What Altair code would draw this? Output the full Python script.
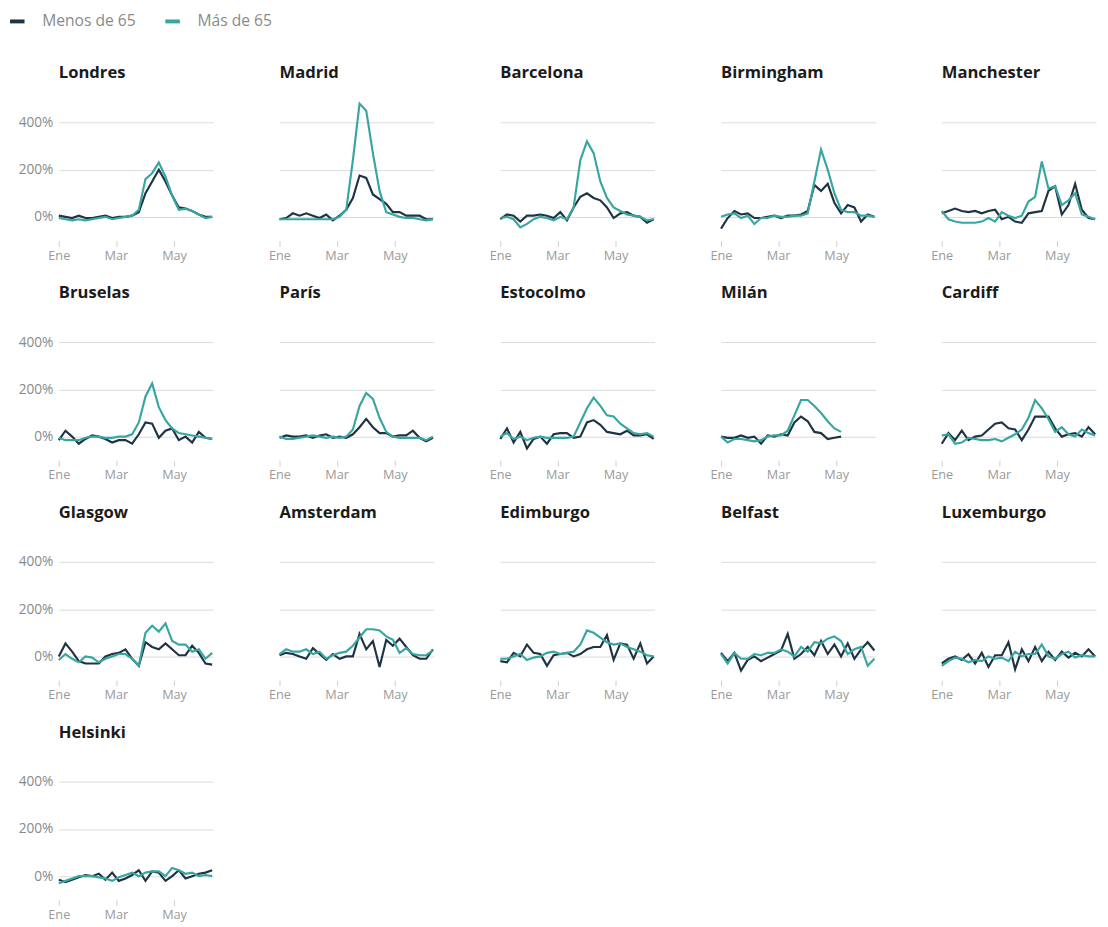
import altair as alt
import pandas as pd

# days since 1 Jan 2020 for each weekly observation
dias = [0, 7, 14, 21, 28, 35, 42, 49, 56, 63, 70, 77, 84, 91, 98, 105, 112, 119, 126, 133, 140, 147, 154, 161]

ciudades = ["Londres", "Madrid", "Barcelona", "Birmingham", "Manchester",
            "Bruselas", "París", "Estocolmo", "Milán", "Cardiff",
            "Glasgow", "Amsterdam", "Edimburgo", "Belfast", "Luxemburgo",
            "Helsinki"]
grupos = ["Menos de 65", "Más de 65"]
colores = ["#1f3344", "#38a6a0"]

londres_menos = [5, 0, -5, 5, -5, -5, 0, 5, -5, 0, 0, 5, 20, 100, 150, 200, 150, 90, 40, 35, 25, 10, 0, 0]
londres_mas = [-5, -10, -15, -10, -15, -10, -5, 0, -10, -5, 0, 5, 30, 160, 185, 230, 170, 90, 30, 35, 25, 10, -5, 0]
madrid_menos = [-10, -5, 15, 5, 15, 5, -5, 10, -15, 5, 30, 80, 175, 165, 95, 75, 55, 20, 20, 5, 5, 5, -10, -10]
madrid_mas = [-10, -10, -10, -10, -10, -10, -10, -10, -10, 0, 30, 240, 480, 450, 270, 110, 20, 10, 0, -5, -5, -10, -15, -10]
barcelona_menos = [-10, 10, 5, -20, 5, 5, 10, 5, -5, 20, -15, 40, 85, 100, 80, 70, 40, -5, 15, 20, 5, 0, -25, -10]
barcelona_mas = [-5, 0, -10, -45, -30, -10, 0, -5, -15, 0, -10, 40, 240, 320, 270, 150, 80, 40, 25, 10, 5, 0, -15, -10]
birmingham_menos = [-50, -5, 25, 10, 15, -5, -5, 0, 5, -5, 5, 5, 10, 25, 135, 110, 140, 60, 15, 50, 40, -20, 10, 0]
birmingham_mas = [0, 10, 15, -5, 5, -30, -5, -5, 5, 0, 0, 5, 5, 15, 150, 285, 200, 100, 30, 20, 20, 5, 5, 0]
manchester_menos = [15, 25, 35, 25, 20, 25, 15, 25, 30, -10, 0, -20, -25, 15, 20, 25, 110, 130, 10, 50, 140, 30, -5, -10]
manchester_mas = [25, -10, -20, -25, -25, -25, -20, -5, -20, 20, 5, -5, 5, 65, 85, 235, 120, 130, 50, 70, 100, 10, 0, -10]
bruselas_menos = [-15, 25, 0, -30, -10, 5, 0, -10, -25, -15, -15, -30, 10, 60, 55, -5, 25, 35, -15, 0, -25, 20, -5, -10]
bruselas_mas = [-5, -15, -15, -15, -5, 0, 0, -5, -5, 0, 0, 10, 60, 170, 225, 125, 70, 35, 15, 10, 5, 0, -5, -10]
paris_menos = [-5, 5, 0, 0, 5, -5, 5, 10, -5, 0, -5, 10, 40, 75, 40, 15, 15, 0, 5, 5, 25, -5, -20, -5]
paris_mas = [0, -10, -10, -5, 0, 5, 0, -5, 0, -5, 0, 30, 130, 185, 160, 80, 20, 0, -5, -5, -5, -5, -15, 0]
estocolmo_menos = [-10, 35, -25, 20, -50, -10, 0, -30, 10, 15, 15, -5, 0, 60, 70, 50, 20, 15, 10, 25, 5, 5, 10, -10]
estocolmo_mas = [0, 15, -10, 0, -15, -5, 0, -5, -5, -5, -5, 0, 60, 120, 165, 130, 90, 85, 55, 35, 15, 10, 15, 0]
milan_menos = [0, -5, -5, 5, -5, 0, -30, 5, 0, 10, 5, 60, 85, 65, 20, 15, -10, -5, 0]
milan_mas = [0, -25, -10, -10, -15, -20, -15, 0, 5, 5, 25, 90, 155, 155, 130, 100, 65, 35, 20]
cardiff_menos = [-30, 15, -15, 25, -15, 0, 5, 30, 55, 60, 35, 30, -15, 30, 85, 85, 85, 35, 0, 10, 15, 0, 40, 10]
cardiff_mas = [5, 10, -30, -25, -5, -10, -15, -15, -10, -20, -5, 10, 30, 80, 155, 120, 75, 20, 40, 10, 0, 30, 15, 5]
glasgow_menos = [0, 55, 20, -20, -30, -30, -30, 0, 10, 15, 30, -10, -40, 60, 40, 30, 55, 30, 5, 5, 45, 15, -30, -35]
glasgow_mas = [-15, 10, -10, -25, 0, -5, -25, -10, 0, 10, 10, -10, -40, 100, 130, 105, 140, 65, 50, 50, 20, 30, -10, 15]
amsterdam_menos = [5, 15, 10, 0, -10, 35, 10, -15, 10, -10, 0, 0, 95, 30, 65, -45, 70, 45, 75, 40, 5, -10, -10, 30]
amsterdam_mas = [10, 30, 20, 20, 30, 10, 20, -10, 5, 15, 20, 45, 80, 115, 115, 110, 85, 70, 15, 35, 10, 5, 5, 25]
edimburgo_menos = [-20, -25, 15, 0, 50, 15, 10, -40, 5, 10, 15, 0, 10, 30, 40, 40, 90, -15, 55, 50, -10, 55, -30, 0]
edimburgo_mas = [-10, -10, 0, 10, -15, -5, 0, 15, 20, 10, 15, 20, 50, 110, 100, 80, 60, 50, 55, 40, 30, 20, 5, 0]
belfast_menos = [15, -20, 15, -60, -15, 0, -20, -5, 10, 25, 95, -10, 10, 40, 5, 65, 10, 50, 0, 55, -10, 30, 60, 25]
belfast_mas = [10, -30, 15, -10, -10, 10, 5, 15, 15, 30, 20, 0, 40, 20, 60, 55, 75, 85, 65, 10, 30, 40, -40, -10]
luxemburgo_menos = [-30, -10, 0, -15, 10, -30, 15, -45, 5, 5, 60, -55, 30, -20, 40, -20, 20, -15, 20, -5, 15, 0, 30, 0]
luxemburgo_mas = [-40, -20, -5, -10, -25, -15, -20, 0, -10, -5, -20, 20, 0, 10, 10, 50, 0, -10, 10, 20, -5, 5, 0, 0]
helsinki_menos = [-15, -25, -15, -5, 5, 0, 10, -15, 15, -20, -10, 5, 25, -20, 20, 15, -20, 0, 25, -10, 0, 10, 15, 25]
helsinki_mas = [-30, -20, -10, 0, 0, 0, -5, -10, -20, -5, 5, 15, 0, 15, 20, 20, 0, 35, 25, 10, 15, 0, 5, 0]

series = {
    "Londres": (londres_menos, londres_mas),
    "Madrid": (madrid_menos, madrid_mas),
    "Barcelona": (barcelona_menos, barcelona_mas),
    "Birmingham": (birmingham_menos, birmingham_mas),
    "Manchester": (manchester_menos, manchester_mas),
    "Bruselas": (bruselas_menos, bruselas_mas),
    "París": (paris_menos, paris_mas),
    "Estocolmo": (estocolmo_menos, estocolmo_mas),
    "Milán": (milan_menos, milan_mas),
    "Cardiff": (cardiff_menos, cardiff_mas),
    "Glasgow": (glasgow_menos, glasgow_mas),
    "Amsterdam": (amsterdam_menos, amsterdam_mas),
    "Edimburgo": (edimburgo_menos, edimburgo_mas),
    "Belfast": (belfast_menos, belfast_mas),
    "Luxemburgo": (luxemburgo_menos, luxemburgo_mas),
    "Helsinki": (helsinki_menos, helsinki_mas),
}

FONT = "Open Sans"
PW, PH = 158, 145


def panel(ciudad, idx):
    menos, mas = series[ciudad]
    rows = []
    for g, vals in zip(grupos, (menos, mas)):
        for d, v in zip(dias, vals):
            rows.append({"dia": d, "valor": v, "grupo": g, "orden": grupos.index(g)})
    df = pd.DataFrame(rows)
    first = idx % 5 == 0
    yaxis = alt.Axis(values=[0, 200, 400], labelExpr="datum.value + '%'",
                     labels=first, ticks=False, domain=False, grid=True,
                     gridColor="#dadada", gridWidth=1, labelColor="#8a8a8a",
                     labelFontSize=14, labelFont=FONT, labelPadding=6,
                     minExtent=44, maxExtent=44, title=None)
    xaxis = alt.Axis(values=[0, 60, 121],
                     labelExpr="datum.value == 0 ? 'Ene' : (datum.value == 60 ? 'Mar' : 'May')",
                     domain=False, grid=False, ticks=True, tickColor="#cfcfcf",
                     tickSize=6, labelColor="#9a9a9a", labelFontSize=13,
                     labelFont=FONT, labelPadding=3, labelFlush=False, title=None)
    return alt.Chart(df).mark_line(strokeWidth=2.2).encode(
        x=alt.X("dia:Q", scale=alt.Scale(domain=[0, 162], nice=False, zero=False), axis=xaxis),
        y=alt.Y("valor:Q", scale=alt.Scale(domain=[-100, 500], nice=False), axis=yaxis),
        color=alt.Color("grupo:N", scale=alt.Scale(domain=grupos, range=colores),
                        legend=alt.Legend(title=None, orient="none", direction="horizontal",
                                          legendX=-52, legendY=-89,
                                          symbolType="stroke",
                                          symbolStrokeWidth=4, symbolSize=220,
                                          labelFontSize=16, labelFont=FONT,
                                          labelColor="#8a8a8a", labelOffset=16,
                                          columnPadding=22)),
        order=alt.Order("orden:Q"),
    ).properties(
        width=PW, height=PH,
        title=alt.TitleParams(text=ciudad, anchor="start", frame="group",
                              fontSize=17, font=FONT, fontWeight="bold",
                              color="#1b1b1b", offset=17),
    )


panels = [panel(c, i) for i, c in enumerate(ciudades)]
chart = alt.concat(*panels, columns=5, spacing={"row": 23, "column": 20}).properties(
    padding={"left": 0, "top": -7, "right": 0, "bottom": 0}
).configure_view(stroke=None)

chart.save("out.html", embed_options={"renderer": "svg", "actions": False})
